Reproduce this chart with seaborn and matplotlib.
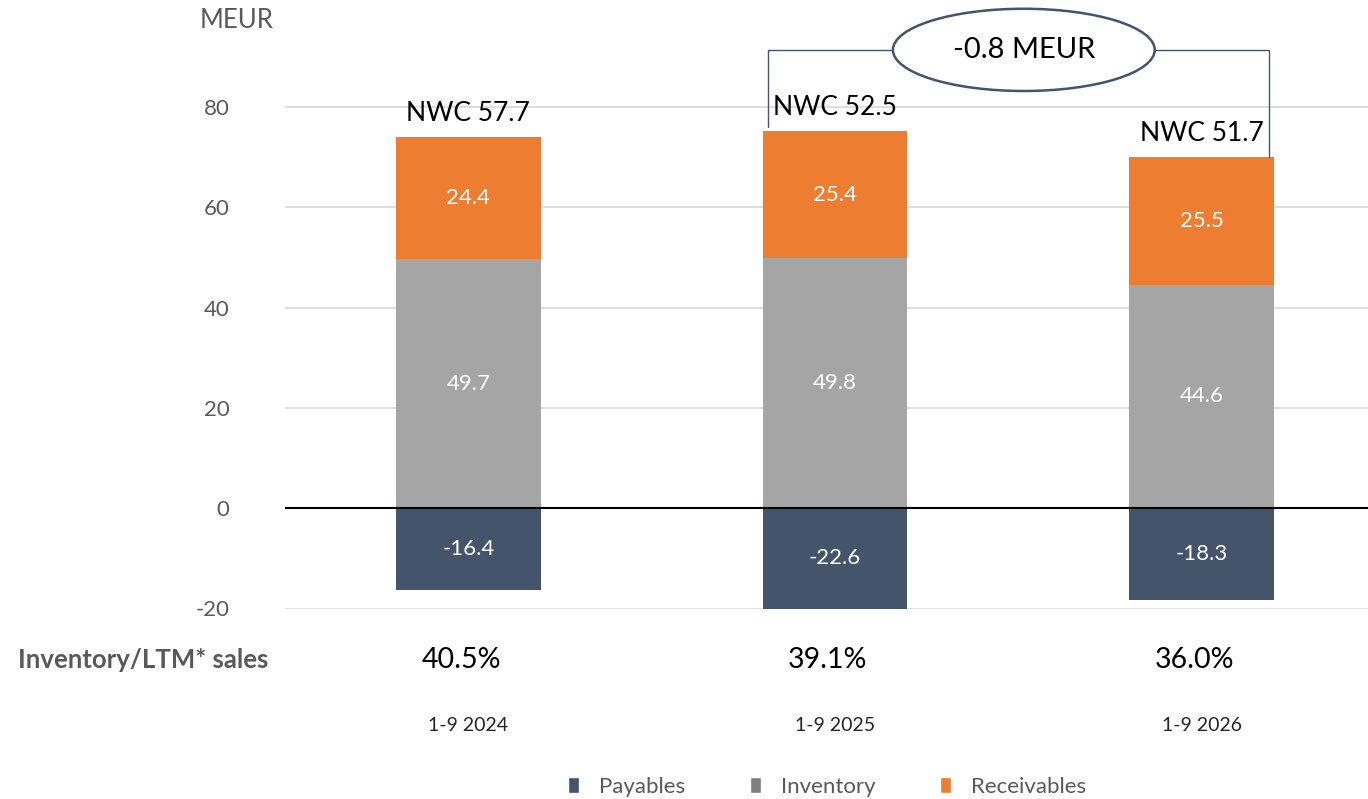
import matplotlib
matplotlib.use("Agg")
import matplotlib.pyplot as plt
from matplotlib.patches import Ellipse, Patch
import seaborn as sns
import pandas as pd

periods = ["1-9 2024", "1-9 2025", "1-9 2026"]
payables = [-16.4, -22.6, -18.3]
inventory = [49.7, 49.8, 44.6]
receivables = [24.4, 25.4, 25.5]
nwc = [57.7, 52.5, 51.7]
inv_sales = ["40.5%", "39.1%", "36.0%"]
y_ticks = [-20, 0, 20, 40, 60, 80]
change_label = "-0.8 MEUR"

C_PAY = "#44546a"
C_INV = "#a5a5a5"
C_REC = "#ed7d31"
GREY_TXT = "#595959"

sns.set_theme(style="white")
plt.rcParams["font.family"] = ["Lato", "DejaVu Sans"]
plt.rcParams["axes.unicode_minus"] = False

fig = plt.figure(figsize=(13.68, 7.99), dpi=100)
ax = fig.add_axes([285/1368, 1-608.5/799, 1100/1368, (608.5-6.75)/799])

df = pd.DataFrame({"period": periods, "pay": payables, "inv": inventory, "rec": receivables})
W = 0.395
sns.barplot(data=df, x="period", y="pay", color=C_PAY, width=W, ax=ax, saturation=1, linewidth=0)
sns.barplot(data=df, x="period", y="inv", color=C_INV, width=W, ax=ax, saturation=1, linewidth=0)
sns.barplot(data=df, x="period", y="rec", color=C_REC, width=W, ax=ax, saturation=1, linewidth=0,
            bottom=inventory)

for cont, vals in zip(ax.containers, [payables, inventory, receivables]):
    ax.bar_label(cont, labels=[f"{v:.1f}" for v in vals], label_type="center",
                 color="white", fontsize=16)

ax.set_xlim(-0.5, 2.5)
ax.set_ylim(-20, 100)
ax.set_yticks(y_ticks)
ax.yaxis.grid(True, color="#d9d9d9", lw=1.2)
ax.set_axisbelow(True)
for s in ax.spines.values():
    s.set_visible(False)
ax.axhline(0, color="black", lw=1.5, zorder=3)
ax.tick_params(axis="y", length=0, pad=40, labelsize=16, labelcolor=GREY_TXT)
ax.tick_params(axis="x", length=0, pad=78, labelsize=14, labelcolor="#262626")
ax.set_xlabel("")
ax.set_ylabel("")

# NWC totals
tops = [i + r for i, r in zip(inventory, receivables)]
for i, (t, n) in enumerate(zip(tops, nwc)):
    ax.text(i, t + 2.2, f"NWC {n:.1f}", ha="center", va="bottom", fontsize=19, color="black")

# Inventory / LTM sales row
fig.text(268/1368, 1-660/799, "Inventory/LTM* sales", ha="right", va="center",
         fontsize=18.5, fontweight="bold", color=GREY_TXT)
for i, s in enumerate(inv_sales):
    ax.annotate(s, xy=(i - 0.02, 1-660/799), xycoords=("data", "figure fraction"),
                ha="center", va="center", fontsize=20.5, color="black", annotation_clip=False)

fig.text(200/1368, 1-20/799, "MEUR", ha="left", va="center", fontsize=18.5, color=GREY_TXT)

# bracket with ellipse
yb = 91.4
ex, ew, eh = 1.515, 0.714, 16.4
lc = C_PAY
ax.plot([0.817, 0.817, ex - ew/2], [76.0, yb, yb], color=lc, lw=1, clip_on=False)
ax.plot([ex + ew/2, 2.185, 2.185], [yb, yb, 70.0], color=lc, lw=1, clip_on=False)
ax.add_patch(Ellipse((ex, yb), ew, eh, facecolor="white", edgecolor=lc, lw=1.8,
                     clip_on=False, zorder=5))
ax.text(ex, yb, change_label, ha="center", va="center", fontsize=21, color="black", zorder=6)

handles = [Patch(facecolor=C_PAY, label="Payables"),
           Patch(facecolor="#7f7f7f", label="Inventory"),
           Patch(facecolor=C_REC, label="Receivables")]
leg = ax.legend(handles=handles, loc="center", bbox_to_anchor=(0.493, -(787-608.5)/(608.5-6.75)),
                ncol=3, frameon=False, fontsize=16, handlelength=0.5, handleheight=0.75,
                columnspacing=2.9, handletextpad=0.9)
for t in leg.get_texts():
    t.set_color(GREY_TXT)

fig.savefig("out.png", dpi=100)
